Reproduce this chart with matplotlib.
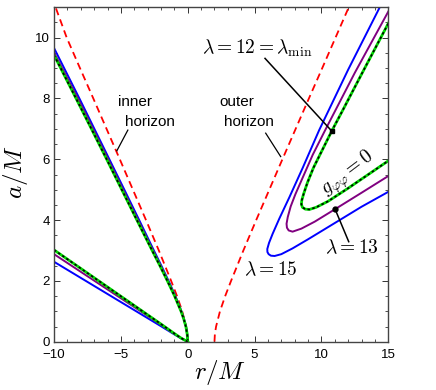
import numpy as np
import matplotlib
matplotlib.use('Agg')
import matplotlib.pyplot as plt

plt.rcParams['mathtext.fontset'] = 'cm'
plt.rcParams['font.family'] = ['Liberation Sans', 'DejaVu Sans']

# horizons (a values and r values)
hor_a = [0, 0.25, 0.5, 1, 1.5, 2, 3, 4, 5, 6, 7, 8, 9, 10, 11.2]
outer_r = [2.0, 2.03, 2.12, 2.41, 2.80, 3.24, 4.16, 5.12, 6.10, 7.08, 8.07, 9.06, 10.06, 11.05, 12.24]
inner_r = [0, -0.03, -0.12, -0.41, -0.80, -1.24, -2.16, -3.12, -4.10, -5.08, -6.07, -7.06, -8.06, -9.05, -10.05]

# left region, steep branch
up_a_g = [0, 0.25, 0.5, 0.75, 1.0, 1.5, 2.0, 2.5, 3.0, 4.0, 5.0, 6.0, 7.0, 8.0, 9.43]
up_r_g = [0, -0.04, -0.14, -0.30, -0.50, -0.98, -1.52, -2.08, -2.66, -3.80, -4.93, -6.06, -7.20, -8.35, -10.0]
up_a_p = [0, 0.25, 0.5, 0.75, 1.0, 1.5, 2.0, 2.5, 3.0, 4.0, 5.0, 6.0, 7.0, 8.0, 9.51]
up_r_p = [0, -0.04, -0.14, -0.29, -0.49, -0.95, -1.48, -2.03, -2.60, -3.72, -4.84, -5.96, -7.09, -8.22, -10.0]
up_a_b = [0, 0.25, 0.5, 0.75, 1.0, 1.5, 2.0, 2.5, 3.0, 4.0, 5.0, 6.0, 7.0, 8.0, 9.66]
up_r_b = [0, -0.04, -0.13, -0.28, -0.47, -0.92, -1.43, -1.97, -2.53, -3.63, -4.74, -5.86, -6.98, -8.10, -10.0]

# left region, shallow branch
lo_r = [-10, -8, -6, -4, -2, -1, -0.5, 0]
lo_a_g = [3.02, 2.41, 1.80, 1.19, 0.58, 0.27, 0.12, 0]
lo_a_p = [2.88, 2.30, 1.72, 1.14, 0.56, 0.26, 0.12, 0]
lo_a_b = [2.63, 2.10, 1.57, 1.04, 0.51, 0.24, 0.11, 0]

# right region, nose-shaped curves
rt_r_g = [15, 13, 11.6, 10.77, 10.0, 9.4, 8.95, 8.68, 8.53, 8.5, 8.58, 8.8, 9.1, 9.6, 10.5, 12.0, 13.5, 15]
rt_a_g = [10.47, 8.8, 7.62, 6.93, 6.25, 5.72, 5.23, 4.88, 4.65, 4.52, 4.42, 4.36, 4.35, 4.42, 4.62, 5.05, 5.5, 5.95]
rt_r_p = [15, 12.5, 10.28, 9.35, 8.6, 8.05, 7.7, 7.48, 7.39, 7.42, 7.55, 7.84, 8.5, 9.5, 11.02, 13, 15]
rt_a_p = [10.86, 8.85, 6.96, 6.15, 5.4, 4.85, 4.45, 4.1, 3.88, 3.75, 3.66, 3.62, 3.72, 3.95, 4.36, 4.9, 5.45]
rt_r_b = [14.36, 12.0, 9.83, 8.6, 7.6, 6.85, 6.35, 6.08, 5.95, 5.96, 6.05, 6.22, 6.5, 7.0, 7.84, 9.0, 11.32, 13.0, 15]
rt_a_b = [11.0, 8.95, 6.96, 5.72, 4.75, 4.05, 3.55, 3.25, 3.05, 2.95, 2.88, 2.83, 2.82, 2.88, 3.07, 3.37, 3.99, 4.44, 4.93]

blue = (0, 0, 1)
purple = (0.5, 0, 0.5)
green = (0, 0.85, 0)

fig = plt.figure(figsize=(4.36, 3.90), dpi=100)
ax = fig.add_axes([0.1239, 0.1238, 0.7667, 0.8575])

ax.plot(outer_r, hor_a, color='r', lw=1.3, ls=(0, (4, 2.5)))
ax.plot(inner_r, hor_a, color='r', lw=1.3, ls=(0, (4, 2.5)))

ax.plot(up_r_b, up_a_b, color=blue, lw=1.4)
ax.plot(lo_r, lo_a_b, color=blue, lw=1.4)
ax.plot(rt_r_b, rt_a_b, color=blue, lw=1.4)

ax.plot(up_r_p, up_a_p, color=purple, lw=1.4)
ax.plot(lo_r, lo_a_p, color=purple, lw=1.4)
ax.plot(rt_r_p, rt_a_p, color=purple, lw=1.4)

for rr, aa in [(up_r_g, up_a_g), (lo_r, lo_a_g), (rt_r_g, rt_a_g)]:
    ax.plot(rr, aa, color=green, lw=2.0)
    ax.plot(rr, aa, color='k', lw=1.2, ls=(0, (1.5, 1.5)))

# annotations
ax.text(-5.25, 7.87, 'inner', fontsize=11, va='center', ha='left')
ax.text(-4.72, 7.24, 'horizon', fontsize=11, va='center', ha='left')
ax.plot([-4.48, -5.30], [6.96, 6.28], color='k', lw=0.9)

ax.text(2.38, 7.87, 'outer', fontsize=11, va='center', ha='left')
ax.text(2.68, 7.24, 'horizon', fontsize=11, va='center', ha='left')
ax.plot([5.83, 6.95], [6.86, 6.09], color='k', lw=0.9)

ax.text(1.05, 9.64, r'$\lambda = 12 = \lambda_{\min}$', fontsize=14, va='center', ha='left')
ax.plot([5.78, 10.77], [9.32, 6.93], color='k', lw=1.1)
ax.plot([10.77], [6.93], 's', color='k', ms=3.5)

ax.text(10.25, 3.10, r'$\lambda = 13$', fontsize=14, va='center', ha='left')
ax.plot([11.02, 12.04], [4.36, 3.29], color='k', lw=1.1)
ax.plot([11.02], [4.36], 'o', color='k', ms=3.5)

ax.text(4.2, 2.36, r'$\lambda = 15$', fontsize=14, va='center', ha='left')

ax.text(11.99, 5.51, r'$g_{\varphi\varphi} = 0$', fontsize=14, va='center', ha='center',
        rotation=37, rotation_mode='anchor')

ax.set_xlim(-10, 15)
ax.set_ylim(0, 11)
ax.set_xticks([-10, -5, 0, 5, 10, 15])
ax.set_xticklabels(['\u221210', '\u22125', '0', '5', '10', '15'])
ax.set_yticks([0, 2, 4, 6, 8, 10])
ax.set_xticks(np.arange(-10, 15.1, 1), minor=True)
ax.set_yticks(np.arange(0, 11.1, 0.5), minor=True)
ax.tick_params(which='both', direction='in', top=True, right=True, labelsize=9.5, colors='#333333',
               labelcolor='k')
ax.tick_params(which='major', length=4, width=0.7, pad=3)
ax.tick_params(which='minor', length=2, width=0.6)
ax.tick_params(axis='x', which='major', pad=5)
for s in ax.spines.values():
    s.set_color('#444444')
    s.set_linewidth(1.0)

fig.text(0.505, 0.046, r'$r/M$', fontsize=18, ha='center', va='center')
fig.text(0.036, 0.559, r'$a/M$', fontsize=18, ha='center', va='center', rotation=90)

fig.savefig('out.png', dpi=100)
